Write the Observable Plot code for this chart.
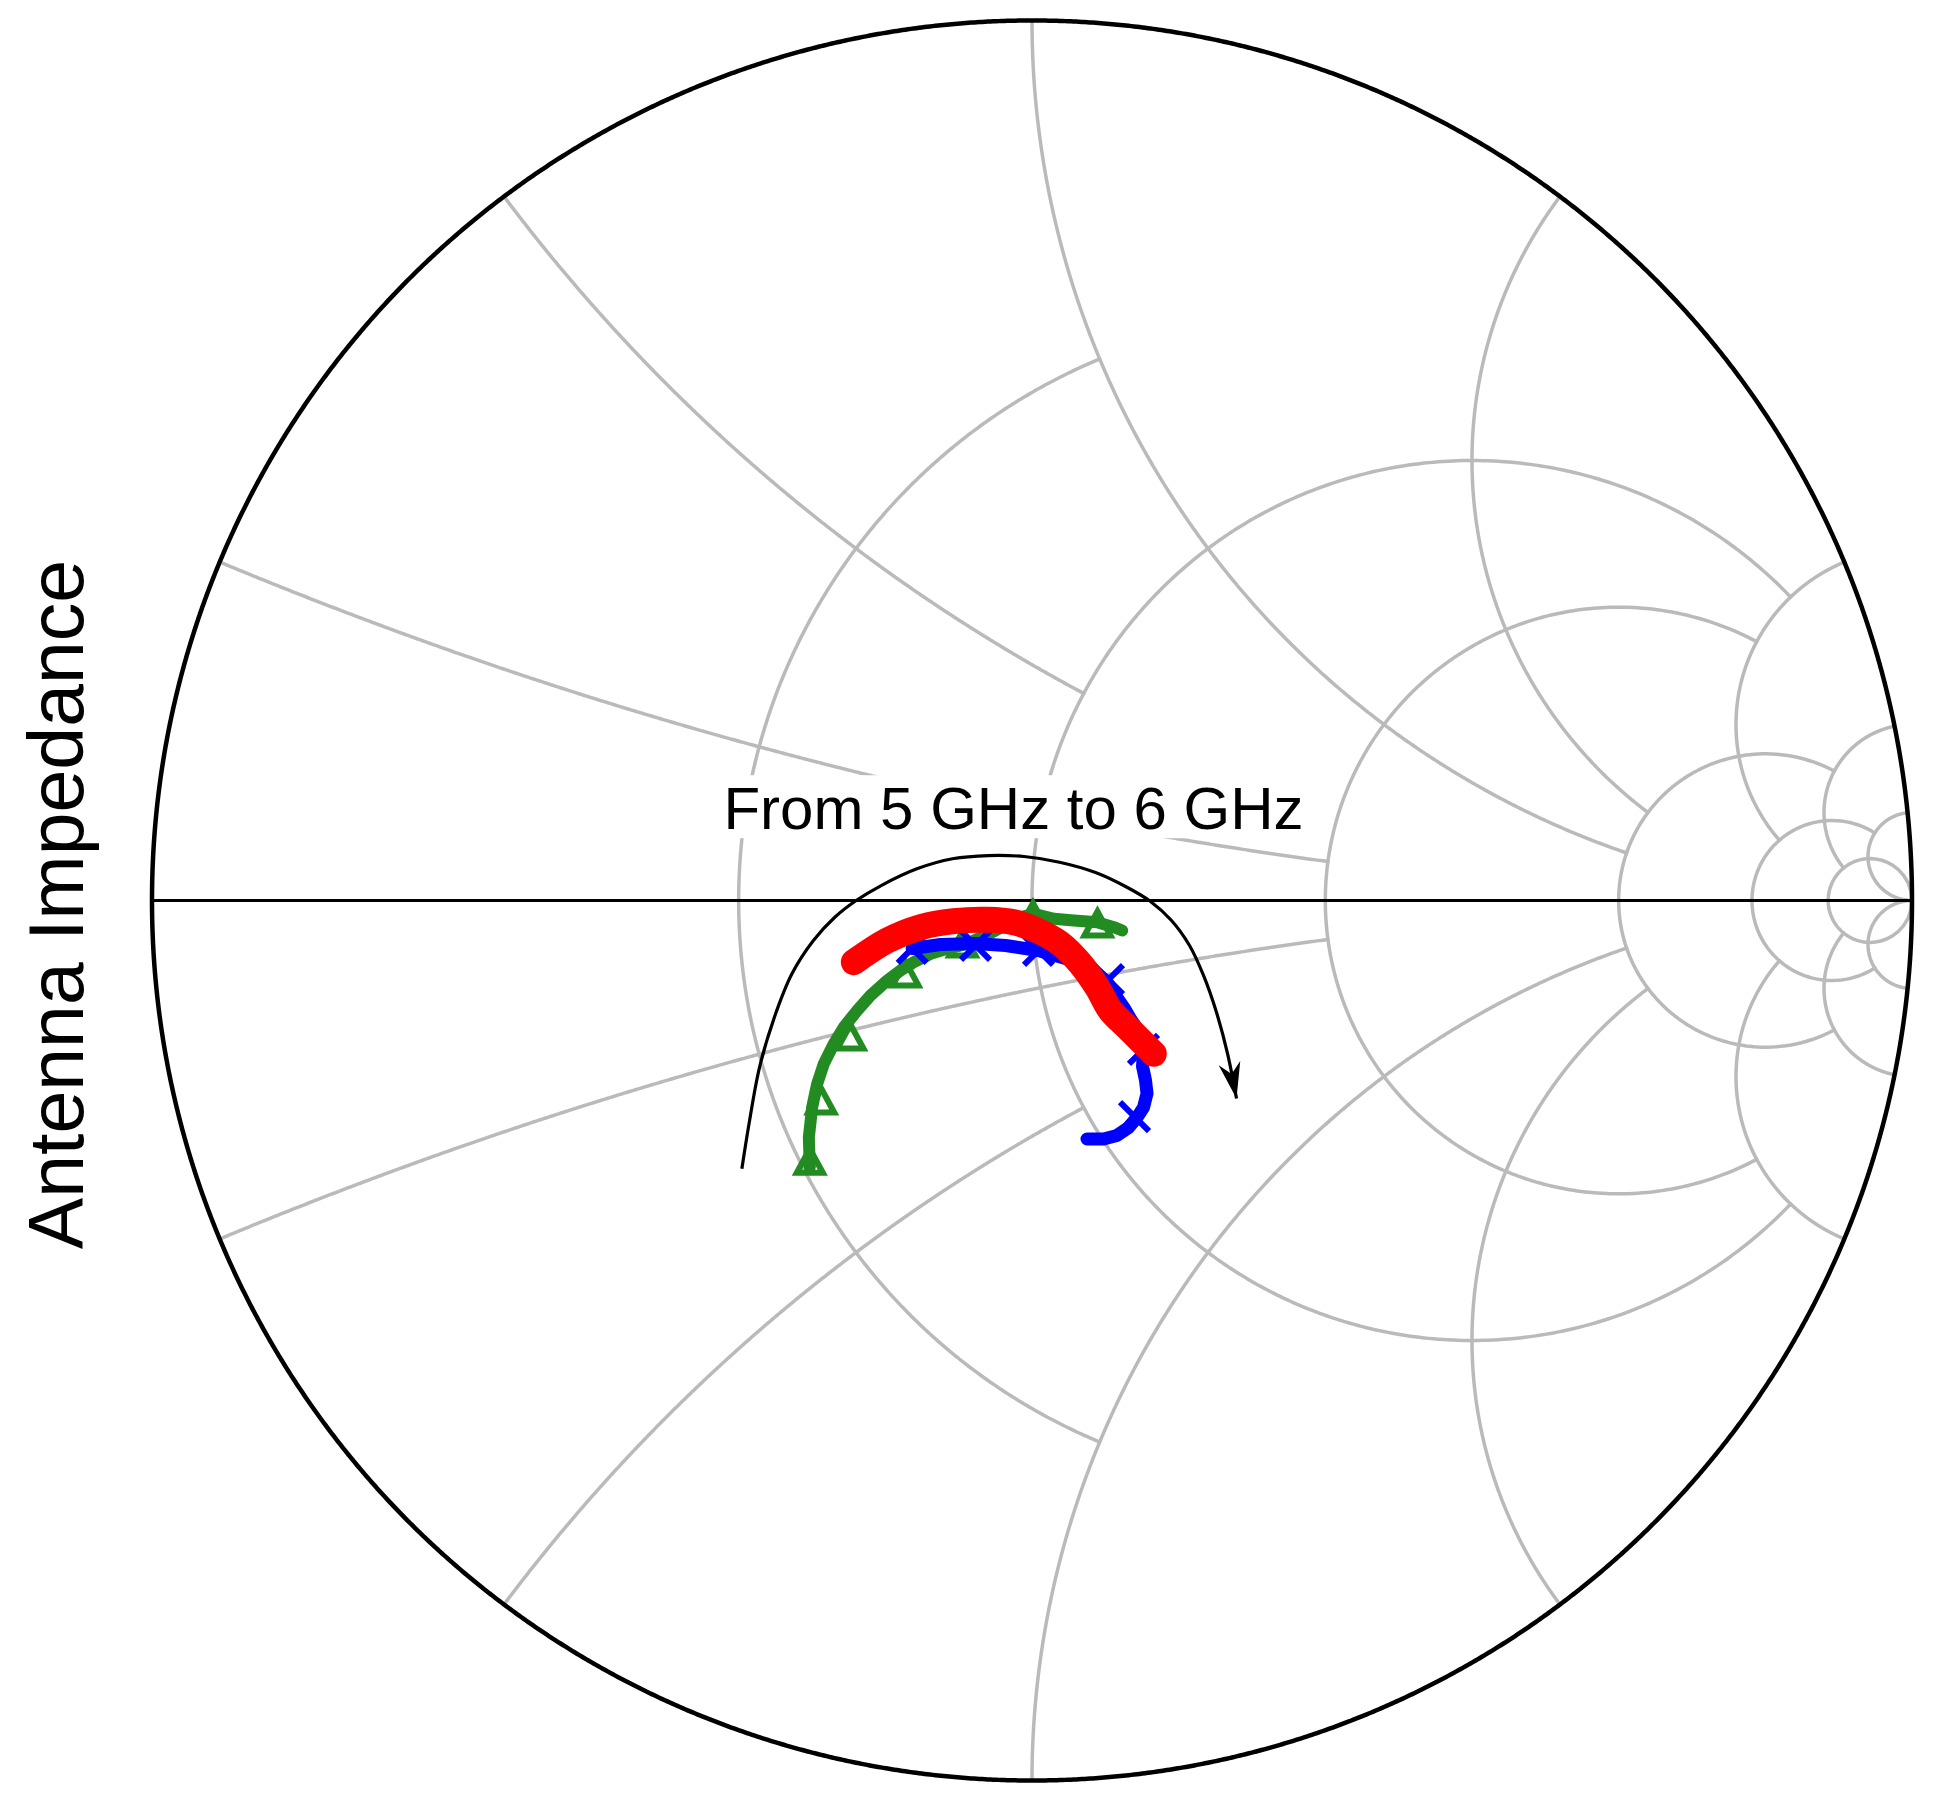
<!DOCTYPE html>
<html>
<head>
<meta charset="utf-8">
<script src="https://cdn.jsdelivr.net/npm/d3@7"></script>
<script src="https://cdn.jsdelivr.net/npm/@observablehq/plot@0.6"></script>
<style>
  html, body { margin: 0; padding: 0; background: #ffffff; }
  #chart svg { display: block; }
</style>
</head>
<body>
<div id="chart"></div>
<script>
// ---------- Smith chart grid values ----------
const resistanceValues = [0.5, 1, 2, 5, 10, 20];
const resistanceLimits = [1, 5, 5, 10, 20, Infinity];   // |x| where each r-circle stops
const reactanceValues  = [0.2, 0.5, 1, 2, 5, 10, 20];
const reactanceLimits  = [2, 1, 5, 5, 10, 20, Infinity]; // r where each x-arc stops

// ---------- Data: reflection coefficient (real / imaginary) ----------
const greenRe = [-0.2525, -0.2536, -0.2498, -0.2441, -0.2366, -0.2252, -0.2139, -0.1986, -0.1835, -0.1645, -0.1494, -0.1343, -0.1153, -0.0964, -0.0736, -0.0415, -0.0131, 0.0020, 0.0248, 0.0475, 0.0741, 0.0930, 0.1025];
const greenIm = [-0.3031, -0.2690, -0.2349, -0.2083, -0.1856, -0.1628, -0.1440, -0.1250, -0.1080, -0.0909, -0.0795, -0.0701, -0.0606, -0.0549, -0.0492, -0.0341, -0.0190, -0.0151, -0.0208, -0.0227, -0.0247, -0.0303, -0.0341];
const greenMarkRe = [-0.2525, -0.2395, -0.2063, -0.1438, -0.0790, 0.0011, 0.0744];
const greenMarkIm = [-0.2992, -0.2307, -0.1580, -0.0864, -0.0523, -0.0200, -0.0295];

const blueRe = [-0.1361, -0.1040, -0.0642, -0.0301, 0.0074, 0.0381, 0.0699, 0.0847, 0.0949, 0.1051, 0.1131, 0.1233, 0.1267, 0.1256, 0.1290, 0.1307, 0.1267, 0.1193, 0.1097, 0.0966, 0.0813, 0.0625];
const blueIm = [-0.0545, -0.0500, -0.0489, -0.0511, -0.0568, -0.0659, -0.0795, -0.0920, -0.1080, -0.1227, -0.1364, -0.1511, -0.1705, -0.1886, -0.2045, -0.2193, -0.2352, -0.2466, -0.2580, -0.2670, -0.2710, -0.2710];
const blueMarkRe = [-0.1361, -0.0642, 0.0074, 0.0869, 0.1267, 0.1165];
const blueMarkIm = [-0.0545, -0.0511, -0.0568, -0.0898, -0.1693, -0.2455];

const redRe = [-0.2025, -0.1645, -0.1267, -0.0889, -0.0509, -0.0207, 0.0059, 0.0324, 0.0551, 0.0741, 0.0892, 0.1082, 0.1270, 0.1384];
const redIm = [-0.0701, -0.0455, -0.0303, -0.0235, -0.0219, -0.0247, -0.0341, -0.0492, -0.0719, -0.0985, -0.1250, -0.1440, -0.1628, -0.1742];

// ---------- Annotation ----------
const arrowRe = [-0.3297, -0.3215, -0.3097, -0.2931, -0.2728, -0.2484, -0.2241, -0.1998, -0.1714, -0.1308, -0.0903, -0.0495, -0.0090, 0.0313, 0.0722, 0.1063, 0.1347, 0.1585, 0.1790, 0.1949, 0.2097, 0.2222, 0.2324];
const arrowIm = [-0.3049, -0.2534, -0.1898, -0.1337, -0.0833, -0.0455, -0.0190, 0.0000, 0.0170, 0.0360, 0.0474, 0.0511, 0.0500, 0.0435, 0.0318, 0.0159, -0.0011, -0.0227, -0.0511, -0.0852, -0.1273, -0.1739, -0.2250];
const annotationText = "From 5 GHz to 6 GHz";
const labelRe = -0.021;
const labelIm = 0.081;
const yLabel = "Antenna Impedance";

// ---------- Build tables ----------
const zip = (re, im) => re.map((v, i) => ({re: v, im: im[i]}));
function gammaOf(r, x) {
  const d = (r + 1) * (r + 1) + x * x;
  return {re: (r * r + x * x - 1) / d, im: 2 * x / d};
}
const N = 600;
const gridRows = [];
resistanceValues.forEach((r, i) => {
  const tmax = Math.atan(resistanceLimits[i]);
  for (let k = 0; k <= N; k++) {
    const t = -tmax + 2 * tmax * k / N;
    gridRows.push({id: "r" + r, ...gammaOf(r, Math.tan(t))});
  }
});
reactanceValues.forEach((x, i) => {
  const tmax = Math.atan(reactanceLimits[i]);
  for (const s of [1, -1]) {
    for (let k = 0; k <= N; k++) {
      gridRows.push({id: "x" + (s * x), ...gammaOf(Math.tan(tmax * k / N), s * x)});
    }
  }
});
const outerRows = [];
for (let k = 0; k <= 2000; k++) {
  const t = -Math.PI / 2 + Math.PI * k / 2000;
  outerRows.push(gammaOf(0, Math.tan(t)));
}
const axisRows = [];
for (let k = 0; k <= 400; k++) {
  axisRows.push(gammaOf(Math.tan(Math.PI / 2 * k / 400), 0));
}

const green = zip(greenRe, greenIm);
const greenMarks = zip(greenMarkRe, greenMarkIm);
const blue = zip(blueRe, blueIm);
const blueMarks = zip(blueMarkRe, blueMarkIm);
const red = zip(redRe, redIm);
const arrow = zip(arrowRe, arrowIm);
const nA = arrow.length;
const arrowAngle = Math.atan2(-(arrowIm[nA - 1] - arrowIm[nA - 2]), arrowRe[nA - 1] - arrowRe[nA - 2]);

// ---------- Symbols ----------
const triangleSymbol = {
  draw(ctx) {
    ctx.moveTo(0, -15); ctx.lineTo(-13, 9); ctx.lineTo(13, 9); ctx.closePath();
  }
};
const timesSymbol = {
  draw(ctx) {
    const a = 14.5;
    ctx.moveTo(-a, -a); ctx.lineTo(a, a);
    ctx.moveTo(-a, a); ctx.lineTo(a, -a);
  }
};
const arrowHeadSymbol = {
  draw(ctx) {
    const c = Math.cos(arrowAngle), s = Math.sin(arrowAngle);
    const P = [[0, 0], [-36, -11], [-25, 0], [-36, 11]].map(([u, v]) => [u * c - v * s, u * s + v * c]);
    ctx.moveTo(P[0][0], P[0][1]);
    for (let i = 1; i < P.length; i++) ctx.lineTo(P[i][0], P[i][1]);
    ctx.closePath();
  }
};

const GRID = "#bababa";
const FONT = "'Liberation Sans', Arial, Helvetica, sans-serif";

const plot = Plot.plot({
  width: 1941,
  height: 1817,
  marginLeft: 151.5,
  marginRight: 29.5,
  marginTop: 20,
  marginBottom: 37,
  x: {domain: [-1, 1], axis: null},
  y: {domain: [-1, 1], axis: null},
  style: {fontFamily: FONT, background: "white", overflow: "visible"},
  marks: [
    Plot.line(gridRows, {x: "re", y: "im", z: "id", stroke: GRID, strokeWidth: 3.5}),
    Plot.line(axisRows, {x: "re", y: "im", stroke: "black", strokeWidth: 3}),
    Plot.line(outerRows, {x: "re", y: "im", stroke: "black", strokeWidth: 4.5}),
    Plot.line(green, {x: "re", y: "im", stroke: "#228B22", strokeWidth: 12}),
    Plot.dot(greenMarks, {x: "re", y: "im", symbol: triangleSymbol, r: 10, fill: "none", stroke: "#228B22", strokeWidth: 6}),
    Plot.line(blue, {x: "re", y: "im", stroke: "#0000FF", strokeWidth: 13}),
    Plot.dot(blueMarks, {x: "re", y: "im", symbol: timesSymbol, r: 10, fill: "none", stroke: "#0000FF", strokeWidth: 6, strokeLinecap: "butt"}),
    Plot.line(red, {x: "re", y: "im", stroke: "#FF0000", strokeWidth: 26, curve: "catmull-rom"}),
    Plot.line(arrow, {x: "re", y: "im", stroke: "black", strokeWidth: 3.2, strokeLinecap: "butt", curve: "catmull-rom"}),
    Plot.dot([arrow[nA - 1]], {x: "re", y: "im", symbol: arrowHeadSymbol, r: 10, fill: "black", stroke: "none"}),
    Plot.text([{re: labelRe, im: labelIm, t: annotationText}], {x: "re", y: "im", text: "t", fontSize: 60, lineAnchor: "bottom", textAnchor: "middle", fill: "black"}),
    Plot.text([yLabel], {frameAnchor: "left", rotate: -90, dx: -69.5, dy: 4, fontSize: 77, lineAnchor: "bottom", textAnchor: "middle", fill: "black"})
  ]
});

document.getElementById("chart").append(plot);

// white box behind the annotation text
const annoText = Array.from(plot.querySelectorAll("text")).find(e => e.textContent === annotationText);
if (annoText) {
  const bb = annoText.getBBox();
  const rect = document.createElementNS("http://www.w3.org/2000/svg", "rect");
  rect.setAttribute("x", bb.x - 7);
  rect.setAttribute("y", bb.y);
  rect.setAttribute("width", bb.width + 14);
  rect.setAttribute("height", bb.height - 4);
  rect.setAttribute("fill", "white");
  const tr = annoText.getAttribute("transform");
  if (tr) rect.setAttribute("transform", tr);
  annoText.parentNode.insertBefore(rect, annoText);
}
</script>
</body>
</html>
